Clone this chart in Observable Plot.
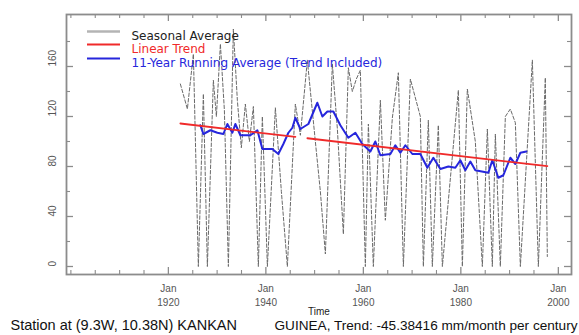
<!DOCTYPE html>
<html><head><meta charset="utf-8">
<script src="https://cdn.jsdelivr.net/npm/d3@7"></script>
<script src="https://cdn.jsdelivr.net/npm/@observablehq/plot@0.6"></script>
<style>
body{margin:0;background:#fff;}
#wrap{width:579px;height:335px;}
</style></head><body><div id="wrap"></div>
<script>
// Seasonal average (mm/month)
const seasonalYears = [1922.46,1923.90,1925.13,1926.15,1927.18,1928.00,1929.23,1929.85,1930.67,1931.49,1932.31,1933.33,1934.15,1934.97,1935.79,1936.62,1937.44,1938.46,1939.28,1940.31,1941.95,1943.18,1944.41,1946.05,1947.08,1948.51,1950.15,1951.18,1952.21,1953.64,1954.67,1955.90,1956.92,1957.74,1958.56,1959.38,1960.41,1961.03,1962.05,1963.49,1964.51,1965.95,1967.18,1968.21,1969.64,1971.69,1972.31,1973.33,1974.15,1975.38,1976.21,1979.49,1980.31,1981.33,1982.97,1984.41,1985.44,1986.46,1987.08,1988.10,1989.13,1990.15,1991.18,1992.21,1994.67,1995.90,1997.33,1997.74];
const seasonalValues = [146,126,170,0,138,0,149,120,178,125,0,190,133,95,130,100,128,0,120,0,127,60,0,130,105,165,100,60,10,162,110,26,159,140,150,157,0,114,0,133,37,119,155,0,150,120,0,117,0,113,0,141,0,142,100,0,110,0,106,0,120,126,115,0,165,0,151,8];
// 11-year running average (trend included)
const runningYears = [1926.56,1927.18,1928.62,1930.05,1931.28,1932.10,1933.13,1933.74,1934.77,1936.82,1938.26,1939.28,1941.33,1942.56,1943.59,1944.62,1945.44,1946.05,1947.08,1948.72,1950.56,1951.59,1952.62,1953.85,1955.28,1956.92,1958.36,1959.79,1961.44,1962.46,1963.49,1965.54,1966.56,1967.59,1968.62,1970.05,1971.69,1973.13,1974.36,1975.79,1977.44,1978.87,1979.90,1980.92,1981.95,1982.97,1985.64,1986.46,1987.69,1988.72,1990.15,1991.18,1992.21,1993.44];
const runningValues = [113,106,109,107,106,114,107,114,105,105,109,94,94,90,98,107,111,119,110,114,131,120,124,124,113,103,107,98,92,100,89,90,97,91,97,90,90,79,87,78,80,79,85,77,84,77,75,85,71,73,87,82,91,92];
// Linear trend, two segments
const trendSegments = ["a","a","b","b"];
const trendYears = [1922.46,1946.05,1948.51,1997.74];
const trendValues = [114.4,103.7,102.6,80.3];

const majorXTicks = [1920,1940,1960,1980,2000];
const minorXTicks = [1900,1905,1910,1915,1925,1930,1935,1945,1950,1955,1965,1970,1975,1985,1990,1995];
const majorYTicks = [0,40,80,120,160];
const minorYTicks = [20,60,100,140,180];
const legendLabels = ["Seasonal Average","Linear Trend","11-Year Running Average (Trend Included)"];
const xLabel = "Time";
const captionLeft = "Station at (9.3W, 10.38N) KANKAN";
const captionRight = "GUINEA, Trend: -45.38416 mm/month per century";

const seasonal = seasonalYears.map((x,i)=>({x, y: seasonalValues[i]}));
const running = runningYears.map((x,i)=>({x, y: runningValues[i]}));
const trend = trendYears.map((x,i)=>({x, y: trendValues[i], s: trendSegments[i]}));

const W=579, H=335, mL=66, mR=8, mT=14, mB=61;
const fw = W-mL-mR, fh = H-mT-mB;
const axisColor = "#8c8c8c";
const font = "'Liberation Sans', Arial, sans-serif";
const legendFont = "'DejaVu Sans', sans-serif";
const grayC = "#6a6a6a", redC = "#f02a2a", blueC = "#2626dc";

const plot = Plot.plot({
  width: W, height: H,
  marginLeft: mL, marginRight: mR, marginTop: mT, marginBottom: mB,
  x: {domain: [1899.1, 2002.7], axis: null},
  y: {domain: [-6.4, 201.6], axis: null},
  style: {fontFamily: font, background: "white", overflow: "visible"},
  marks: [
    Plot.line(seasonal, {x: "x", y: "y", stroke: grayC, strokeWidth: 1, strokeDasharray: "3.5,2"}),
    Plot.line(running, {x: "x", y: "y", stroke: blueC, strokeWidth: 2}),
    Plot.line(trend, {x: "x", y: "y", z: "s", stroke: redC, strokeWidth: 1.8}),
    // inward ticks
    Plot.tickY(majorYTicks, {y: d=>d, stroke: axisColor, strokeWidth: 1.3, insetRight: fw-7}),
    Plot.tickY(majorYTicks, {y: d=>d, stroke: axisColor, strokeWidth: 1.3, insetLeft: fw-7}),
    Plot.tickY(minorYTicks, {y: d=>d, stroke: axisColor, strokeWidth: 1.1, insetRight: fw-4}),
    Plot.tickY(minorYTicks, {y: d=>d, stroke: axisColor, strokeWidth: 1.1, insetLeft: fw-4}),
    Plot.tickX(majorXTicks, {x: d=>d, stroke: axisColor, strokeWidth: 1.3, insetTop: fh-7}),
    Plot.tickX(majorXTicks, {x: d=>d, stroke: axisColor, strokeWidth: 1.3, insetBottom: fh-7}),
    Plot.tickX(minorXTicks, {x: d=>d, stroke: axisColor, strokeWidth: 1.1, insetTop: fh-4}),
    Plot.tickX(minorXTicks, {x: d=>d, stroke: axisColor, strokeWidth: 1.1, insetBottom: fh-4}),
    Plot.frame({stroke: axisColor, strokeWidth: 1.8}),
    // tick labels
    Plot.text(majorYTicks, {y: d=>d, text: d=>String(d), frameAnchor: "left", dx: -13.5, rotate: -90, fontSize: 10, fill: "#555"}),
    Plot.text(majorXTicks, {x: d=>d, text: d=>"Jan\n"+d, frameAnchor: "bottom", dy: 31, fontSize: 10, lineHeight: 1.35, fill: "#555"}),
    // legend
    Plot.ruleY([0], {y: null, stroke: "#b4b4b4", strokeWidth: 2.5, insetLeft: 21, insetRight: fw-54, dy: -113}),
    Plot.ruleY([0], {y: null, stroke: redC, strokeWidth: 2, insetLeft: 21, insetRight: fw-54, dy: -100}),
    Plot.ruleY([0], {y: null, stroke: blueC, strokeWidth: 2, insetLeft: 21, insetRight: fw-54, dy: -86}),
    Plot.text([legendLabels[0]], {text: d=>d, frameAnchor: "top-left", textAnchor: "start", dx: 65, dy: 17, fontSize: 12, fontFamily: legendFont, fill: "#222"}),
    Plot.text([legendLabels[1]], {text: d=>d, frameAnchor: "top-left", textAnchor: "start", dx: 65, dy: 30, fontSize: 12, fontFamily: legendFont, fill: redC}),
    Plot.text([legendLabels[2]], {text: d=>d, frameAnchor: "top-left", textAnchor: "start", dx: 65, dy: 44, fontSize: 12, fontFamily: legendFont, fill: blueC}),
    // axis label & captions
    Plot.text([xLabel], {text: d=>d, frameAnchor: "bottom", dy: 40, fontSize: 10, fill: "#222"}),
    Plot.text([captionLeft], {text: d=>d, frameAnchor: "bottom-left", textAnchor: "start", dx: -56, dy: 55.5, fontSize: 14.5, fill: "#111"}),
    Plot.text([captionRight], {text: d=>d, frameAnchor: "bottom-right", textAnchor: "end", dx: 6, dy: 55.5, fontSize: 13.6, fill: "#111"})
  ]
});
document.getElementById("wrap").appendChild(plot);
</script>
</body></html>
